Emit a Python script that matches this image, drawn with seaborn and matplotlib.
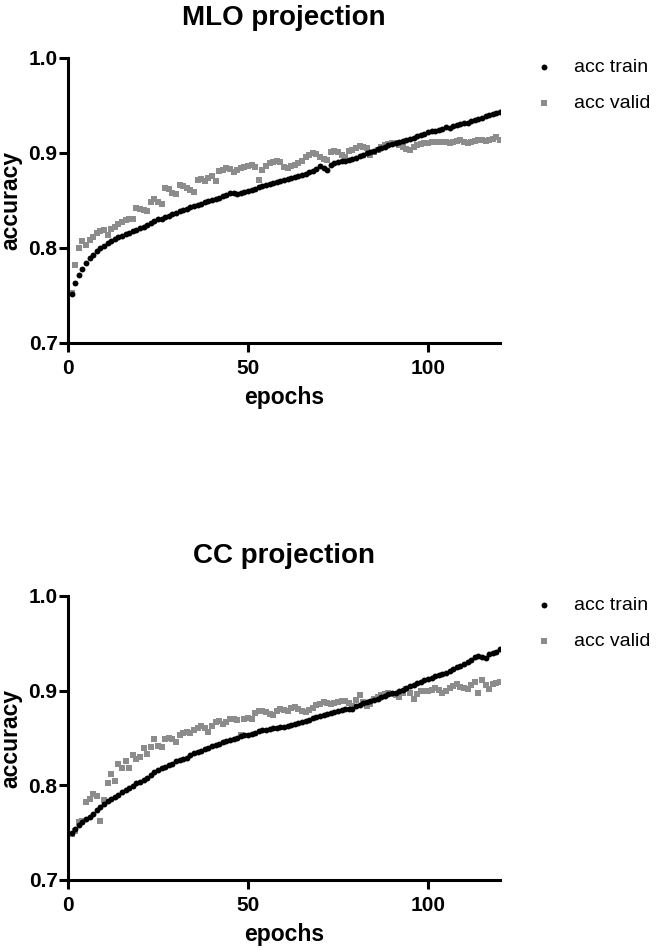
import numpy as np
import pandas as pd
import seaborn as sns
import matplotlib.pyplot as plt

# --- Data (epochs 1..120) ---
EPOCHS = list(range(1, 121))

MLO_TRAIN = [
    0.752, 0.763, 0.772, 0.778, 0.784, 0.789, 0.793, 0.797, 0.800, 0.802,
    0.805, 0.807, 0.809, 0.811, 0.813, 0.815, 0.816, 0.818, 0.819, 0.821,
    0.822, 0.824, 0.826, 0.828, 0.830, 0.831, 0.833, 0.834, 0.836, 0.837,
    0.839, 0.840, 0.841, 0.843, 0.844, 0.845, 0.846, 0.848, 0.849, 0.850,
    0.852, 0.853, 0.855, 0.856, 0.858, 0.858, 0.857, 0.858, 0.859, 0.860,
    0.861, 0.862, 0.864, 0.865, 0.866, 0.867, 0.868, 0.869, 0.870, 0.871,
    0.873, 0.874, 0.875, 0.876, 0.877, 0.878, 0.880, 0.881, 0.883, 0.886,
    0.884, 0.882, 0.887, 0.889, 0.890, 0.891, 0.892, 0.893, 0.894, 0.895,
    0.897, 0.898, 0.900, 0.901, 0.902, 0.904, 0.905, 0.906, 0.908, 0.909,
    0.910, 0.912, 0.913, 0.914, 0.915, 0.916, 0.918, 0.919, 0.920, 0.922,
    0.923, 0.923, 0.924, 0.925, 0.927, 0.926, 0.928, 0.929, 0.930, 0.931,
    0.932, 0.934, 0.935, 0.936, 0.937, 0.939, 0.940, 0.941, 0.942, 0.943,
]
MLO_VALID = [
    0.753, 0.782, 0.800, 0.807, 0.803, 0.808, 0.812, 0.816, 0.818, 0.819,
    0.814, 0.820, 0.822, 0.825, 0.827, 0.829, 0.831, 0.830, 0.842, 0.841,
    0.840, 0.839, 0.848, 0.851, 0.848, 0.846, 0.863, 0.862, 0.858, 0.857,
    0.866, 0.865, 0.863, 0.861, 0.859, 0.872, 0.873, 0.870, 0.874, 0.876,
    0.870, 0.881, 0.882, 0.884, 0.883, 0.880, 0.882, 0.884, 0.885, 0.886,
    0.887, 0.885, 0.872, 0.882, 0.886, 0.889, 0.890, 0.891, 0.890, 0.885,
    0.884, 0.886, 0.887, 0.889, 0.892, 0.896, 0.898, 0.900, 0.899, 0.896,
    0.894, 0.893, 0.901, 0.902, 0.901, 0.898, 0.896, 0.902, 0.903, 0.905,
    0.907, 0.906, 0.905, 0.898, 0.901, 0.903, 0.906, 0.908, 0.909, 0.910,
    0.910, 0.908, 0.906, 0.904, 0.903, 0.906, 0.908, 0.909, 0.910, 0.910,
    0.911, 0.912, 0.912, 0.912, 0.911, 0.910, 0.912, 0.913, 0.914, 0.911,
    0.910, 0.911, 0.913, 0.914, 0.914, 0.913, 0.914, 0.915, 0.917, 0.914,
]
CC_TRAIN = [
    0.750, 0.754, 0.758, 0.761, 0.764, 0.767, 0.770, 0.774, 0.777, 0.780,
    0.783, 0.786, 0.788, 0.790, 0.793, 0.795, 0.797, 0.799, 0.802, 0.804,
    0.806, 0.808, 0.811, 0.814, 0.816, 0.818, 0.819, 0.821, 0.823, 0.826,
    0.827, 0.828, 0.829, 0.832, 0.834, 0.835, 0.836, 0.838, 0.839, 0.841,
    0.843, 0.844, 0.846, 0.847, 0.848, 0.849, 0.850, 0.852, 0.853, 0.853,
    0.854, 0.855, 0.857, 0.858, 0.858, 0.859, 0.860, 0.861, 0.862, 0.862,
    0.863, 0.864, 0.865, 0.866, 0.867, 0.868, 0.869, 0.871, 0.872, 0.873,
    0.874, 0.875, 0.876, 0.877, 0.879, 0.880, 0.881, 0.881, 0.881, 0.884,
    0.885, 0.887, 0.888, 0.889, 0.890, 0.891, 0.893, 0.894, 0.896, 0.897,
    0.898, 0.900, 0.901, 0.903, 0.905, 0.906, 0.908, 0.909, 0.911, 0.912,
    0.913, 0.915, 0.917, 0.918, 0.919, 0.921, 0.923, 0.925, 0.926, 0.928,
    0.930, 0.932, 0.935, 0.937, 0.935, 0.934, 0.939, 0.940, 0.941, 0.944,
]
CC_VALID = [
    0.749, 0.752, 0.761, 0.762, 0.782, 0.786, 0.791, 0.789, 0.762, 0.784,
    0.802, 0.812, 0.805, 0.823, 0.818, 0.826, 0.818, 0.832, 0.828, 0.830,
    0.839, 0.833, 0.840, 0.849, 0.841, 0.840, 0.849, 0.850, 0.849, 0.846,
    0.853, 0.855, 0.856, 0.855, 0.858, 0.860, 0.863, 0.861, 0.856, 0.863,
    0.867, 0.868, 0.865, 0.867, 0.870, 0.870, 0.869, 0.853, 0.870, 0.871,
    0.870, 0.876, 0.879, 0.878, 0.877, 0.875, 0.874, 0.879, 0.881, 0.880,
    0.879, 0.882, 0.883, 0.881, 0.879, 0.877, 0.880, 0.882, 0.885, 0.886,
    0.888, 0.887, 0.886, 0.887, 0.888, 0.889, 0.889, 0.887, 0.884, 0.890,
    0.895, 0.888, 0.884, 0.886, 0.891, 0.893, 0.895, 0.896, 0.897, 0.896,
    0.895, 0.893, 0.898, 0.902, 0.897, 0.891, 0.896, 0.900, 0.900, 0.900,
    0.901, 0.903, 0.901, 0.898, 0.900, 0.903, 0.905, 0.907, 0.904, 0.903,
    0.902, 0.906, 0.909, 0.897, 0.911, 0.906, 0.902, 0.907, 0.908, 0.909,
]

PANELS = [
    ("MLO projection", MLO_TRAIN, MLO_VALID),
    ("CC projection", CC_TRAIN, CC_VALID),
]

sns.set_style("ticks")
plt.rcParams['font.family'] = ['Liberation Sans', 'DejaVu Sans']
plt.rcParams.update({"text.color": "black", "axes.labelcolor": "black",
                     "xtick.color": "black", "ytick.color": "black"})

fig = plt.figure(figsize=(6.69, 9.5), dpi=100)
# axes rectangles in figure fractions (left, bottom, width, height)
rects = [(0.1016, 0.639, 0.6457, 0.300), (0.1016, 0.0737, 0.6457, 0.299)]

for (title, train, valid), rect in zip(PANELS, rects):
    ax = fig.add_axes(rect)
    df = pd.DataFrame({"epochs": EPOCHS, "train": train, "valid": valid})
    sns.scatterplot(data=df, x="epochs", y="train", ax=ax, color="black",
                    marker="o", s=18, linewidth=0, label="acc train", zorder=3)
    sns.scatterplot(data=df, x="epochs", y="valid", ax=ax, color="#8c8c8c",
                    marker="s", s=24, linewidth=0, label="acc valid", zorder=2)

    ax.set_xlim(0, 120)
    ax.set_ylim(0.7, 1.0)
    ax.set_xticks([0, 50, 100])
    ax.set_yticks([0.7, 0.8, 0.9, 1.0])
    ax.set_yticklabels(["0.7", "0.8", "0.9", "1.0"])
    for side in ("top", "right"):
        ax.spines[side].set_visible(False)
    for side in ("left", "bottom"):
        ax.spines[side].set_linewidth(2.2)
        ax.spines[side].set_color("black")
    ax.tick_params(width=2.2, length=6.5, labelsize=15, color="black")
    ax.tick_params(axis="y", pad=1)
    ax.tick_params(axis="x", pad=5)
    for lab in ax.get_xticklabels() + ax.get_yticklabels():
        lab.set_fontweight("bold")

    ax.set_title(title, fontsize=20, fontweight="bold", pad=24)
    ax.set_xlabel("epochs", fontsize=16.5, fontweight="bold", labelpad=6)
    ax.set_ylabel("accuracy", fontsize=16.5, fontweight="bold", labelpad=4)

    ax.legend(loc="upper left", bbox_to_anchor=(1.04, 1.025), frameon=False,
              fontsize=14, handletextpad=0.5, labelspacing=0.95,
              markerscale=1.0, borderaxespad=0)

fig.savefig("out.png", dpi=100, facecolor="white")
